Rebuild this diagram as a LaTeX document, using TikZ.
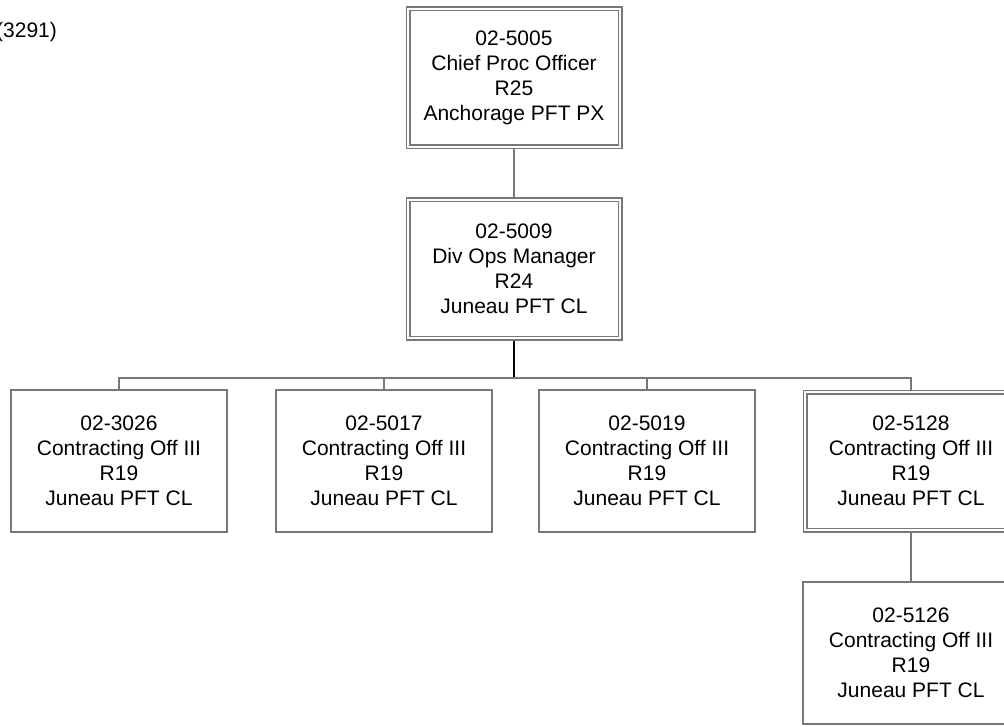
\documentclass[tikz,border=0pt]{standalone}
\usepackage{fontspec}
\setmainfont{Liberation Sans}
\usetikzlibrary{backgrounds}
\definecolor{rahmen}{RGB}{120,120,120}
\tikzset{
	kasten/.style={draw=rahmen, line width=1.3pt, fill=white, minimum width=216pt,
		minimum height=142pt, align=center, inner sep=0pt,
		font=\fontsize{21}{25}\selectfont},
	doppelkasten/.style={kasten, double=white, double distance=2.6pt,
		line width=1.2pt, minimum width=212pt, minimum height=138pt},
	verbindung/.style={draw=rahmen, line width=1.3pt},
	strang/.style={draw=black, line width=2pt}
}
\begin{document}
\begin{tikzpicture}[x=1pt, y=-1pt]
	\useasboundingbox (0,0) rectangle (1004,727);
	% Abteilung links oben
	\node[anchor=west, inner sep=0pt, font=\fontsize{21}{25}\selectfont] (abt) at (-4,32) {(3291)};
	% Leitung
	\node[doppelkasten] (chief) at (514,78) {02-5005\\Chief Proc Officer\\R25\\Anchorage PFT PX};
	\node[doppelkasten] (divops) at (514,269) {02-5009\\Div Ops Manager\\R24\\Juneau PFT CL};
	% Sachbearbeiter
	\foreach \nr/\x/\art in {3026/119/kasten, 5017/384/kasten, 5019/647/kasten, 5128/911/doppelkasten}
		\node[style=\art] (co\nr) at (\x, 461) {02-\nr\\Contracting Off III\\R19\\Juneau PFT CL};
	\node[kasten] (co5126) at (911,653) {02-5126\\Contracting Off III\\R19\\Juneau PFT CL};
	% Linien
	\coordinate (bus) at (514,378);
	\begin{scope}[on background layer]
		\draw[verbindung] (chief) -- (divops);
		\draw[strang] (divops) -- (bus);
		\foreach \nr in {3026,5017,5019,5128}
			\draw[verbindung] (bus) -| (co\nr);
		\draw[verbindung] (co5128) -- (co5126);
	\end{scope}
\end{tikzpicture}
\end{document}
